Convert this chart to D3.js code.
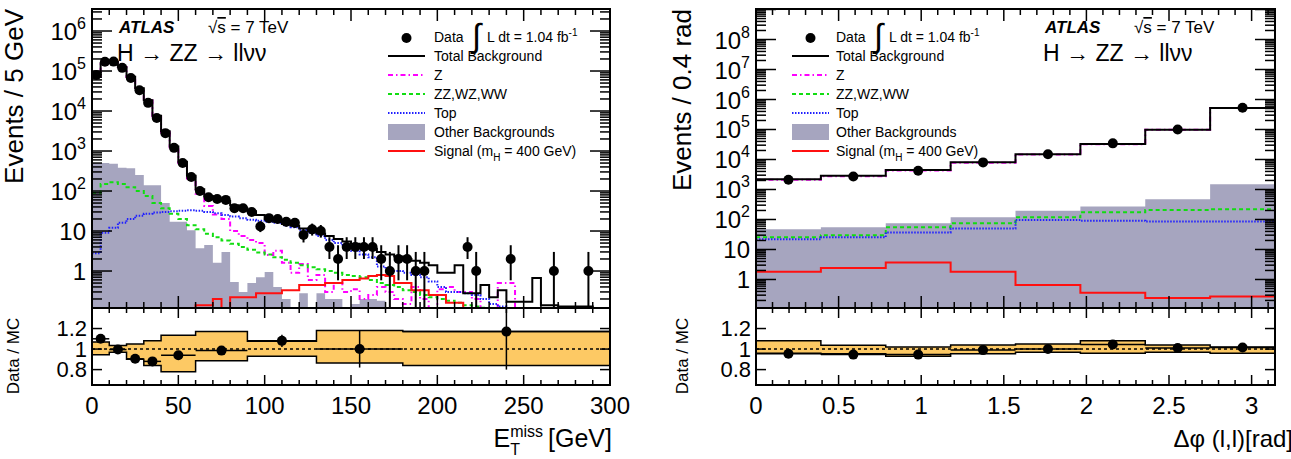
<!DOCTYPE html>
<html>
<head>
<meta charset="utf-8">
<script src="https://cdn.jsdelivr.net/npm/d3@7"></script>
<style>
  body { margin: 0; background: #fff; }
  text { font-family: 'Liberation Sans', Arial, Helvetica, sans-serif; fill: #000; }
</style>
</head>
<body>
<svg id="chart" width="1291" height="459"></svg>
<script>
// ---------- E_T^miss panel (5 GeV bins, 0-300) ----------
const metEdges = d3.range(0, 305, 5);
const metData = [80000, 170000, 172000, 120000, 67000, 33000, 16000, 6700, 2800, 1200,
  500, 225, 100, 70, 63, 60, 37, 37, 30, 13,
  21, 20, 17, 16, 8, 11, 10, 4, 2, 4,
  4, 4, 4, 2, 1, 2, 2, 1, 1, 0,
  0, 0, 0, 4, 1, 0, 0, 0, 2, 0,
  0, 0, 0, 1, 0, 0, 0, 1, 0, 0];
const metBkg = [73000, 158000, 170000, 125000, 72000, 37000, 18500, 7600, 3100, 1300,
  540, 240, 110, 75, 62, 56, 44, 37, 31, 25,
  20, 17, 15, 13.5, 11.5, 10, 8.7, 7.5, 6.3, 5.5,
  4.8, 4.2, 3.6, 3.0, 2.6, 2.3, 2.0, 1.8, 1.6, 1.4,
  0.9, 0.9, 1.4, 0.28, 0.28, 0.45, 0.22, 0.33, 0.17, 0.17,
  0.17, 0.67, 0.14, 0.14, 0.13, 0.13, 0.13, 0.13, 0, 0];
const metZ = [72000, 157000, 169000, 124000, 71000, 36500, 18200, 7400, 2950, 1230,
  500, 205, 85, 42, 26, 20, 10, 7.5, 6, 5,
  2.5, 3.2, 1.6, 0.9, 1.5, 0.6, 0.8, 0.3, 0.5, 0.3,
  0.35, 0.2, 0.25, 0.4, 0.3, 0.2, 0.15, 0.4, 0.2, 0,
  0.35, 0.4, 0.3, 0.3, 0.2, 0, 0, 0.5, 0.5, 0,
  0, 0, 0, 0, 0, 0, 0, 0, 0, 0];
const metDiboson = [90, 150, 165, 150, 125, 100, 75, 50, 37, 27,
  20, 14, 11, 8.5, 7, 5.8, 4.8, 4, 3.4, 2.9,
  2.6, 2.2, 1.9, 1.6, 1.4, 1.25, 1.1, 1.0, 0.9, 0.8,
  0.75, 0.7, 0.6, 0.5, 0.45, 0.4, 0.33, 0.3, 0.25, 0.22,
  0.2, 0.18, 0.16, 0.14, 0.13, 0.12, 0.1, 0.1, 0.1, 0.1,
  0.1, 0.1, 0.1, 0.1, 0.1, 0.1, 0.1, 0.1, 0.1, 0.1];
const metTop = [2.8, 9, 12, 16, 20, 24, 27, 29, 30, 31,
  32, 33, 32, 30, 28, 25, 23, 21, 19, 18,
  17, 16, 14, 12.5, 10.6, 9, 7.5, 6, 5, 4,
  3.2, 2.6, 2.2, 1.3, 1.1, 1.0, 0.9, 0.8, 0.7, 0.55,
  0.4, 0.3, 0.3, 0.28, 0.25, 0.2, 0.15, 0.13, 0, 0,
  0, 0, 0, 0, 0, 0, 0, 0, 0, 0];
const metOther = [500, 500, 480, 380, 370, 250, 140, 140, 50, 17,
  17, 10.5, 3.7, 4.5, 1.6, 3, 0.53, 0.3, 0.5, 0.7,
  0.95, 0.4, 0.2, 0, 0.28, 0, 0.28, 0.2, 0.2, 0,
  0.15, 0.2, 0.2, 0.18, 0, 0, 0, 0, 0, 0,
  0, 0, 0, 0, 0, 0, 0, 0, 0, 0,
  0, 0, 0, 0, 0, 0, 0, 0, 0, 0];
const metSignal = [0, 0, 0, 0, 0, 0, 0, 0, 0, 0,
  0, 0, 0.14, 0.14, 0.2, 0, 0.22, 0.22, 0.22, 0.28,
  0.28, 0.28, 0.33, 0.33, 0.45, 0.45, 0.45, 0.5, 0.5, 0.6,
  0.6, 0.65, 0.75, 0.8, 0.75, 0.5, 0.5, 0.33, 0.33, 0.25,
  0.25, 0.16, 0.16, 0, 0, 0, 0, 0, 0, 0,
  0, 0, 0, 0, 0, 0, 0, 0, 0, 0];
// ratio panel (variable bins)
const metRatioEdges = [0, 10, 20, 30, 40, 60, 90, 130, 180, 300];
const metBandUp = [1.07, 1.035, 1.05, 1.08, 1.135, 1.17, 1.075, 1.18, 1.17];
const metBandDn = [0.945, 0.97, 0.90, 0.84, 0.78, 0.885, 0.93, 0.865, 0.84];
const metRatio = [1.10, 0.995, 0.905, 0.88, 0.94, 0.985, 1.08, 1.0, 1.17];
const metRatioErr = [0.01, 0.01, 0.01, 0.015, 0.02, 0.04, 0.06, 0.18, 0.37];

// ---------- delta phi panel (pi/8 bins) ----------
const dphiEdges = d3.range(0, 9).map(i => i * Math.PI / 8);
const dphiData = [2100, 2700, 4200, 8000, 15000, 34500, 100000, 530000];
const dphiBkg = [2200, 2850, 4450, 8080, 15000, 33000, 99000, 522000];
const dphiZ = [2100, 2780, 4300, 7850, 14600, 32500, 98000, 520000];
const dphiDiboson = [25.5, 30, 55, 75, 118, 173, 208, 218];
const dphiTop = [22, 25.5, 37, 50, 96, 91, 85, 85];
const dphiOther = [47, 55, 75, 118, 196, 270, 470, 1500];
const dphiSignal = [1.8, 2.4, 3.7, 1.8, 0.65, 0.36, 0.24, 0.27];
const dphiBandUp = [1.08, 1.036, 1.02, 1.04, 1.05, 1.08, 1.04, 1.02];
const dphiBandDn = [0.96, 0.955, 0.93, 0.955, 0.97, 0.96, 0.97, 0.96];
const dphiRatio = [0.955, 0.946, 0.946, 0.99, 1.0, 1.045, 1.01, 1.015];
const dphiRatioErr = [0.01, 0.01, 0.01, 0.01, 0.01, 0.01, 0.01, 0.01];

const legendLabels = ['Data', 'Total Background', 'Z', 'ZZ,WZ,WW', 'Top', 'Other Backgrounds', 'Signal'];

// ---------- drawing ----------
const svg = d3.select('#chart');
const MAIN_TOP = 9, MAIN_BOT = 308, RAT_BOT = 385;
const GREY = '#a6a5bf', BAND = '#fdc964';
const styles = {
  z: { stroke: '#ff00ff', dash: '5,3,1.5,3' },
  diboson: { stroke: '#11dd11', dash: '4,3' },
  top: { stroke: '#2020ff', dash: '1.5,1.5' },
  signal: { stroke: '#ff1010', dash: null },
  bkg: { stroke: '#000', dash: null }
};

function stepPath(edges, vals, x, yf) {
  let d = '';
  vals.forEach((v, i) => {
    d += (i === 0 ? `M${x(edges[0])},${yf(v)}` : `V${yf(v)}`) + `H${x(edges[i + 1])}`;
  });
  return d;
}

function fillPath(edges, vals, x, yf, base) {
  let d = `M${x(edges[0])},${base}`;
  vals.forEach((v, i) => { d += `V${yf(v)}H${x(edges[i + 1])}`; });
  return d + `V${base}Z`;
}

function bandPath(edges, up, dn, x, y) {
  let d = `M${x(edges[0])},${y(up[0])}`;
  up.forEach((v, i) => { d += `V${y(v)}H${x(edges[i + 1])}`; });
  for (let i = dn.length - 1; i >= 0; i--) d += `V${y(dn[i])}H${x(edges[i])}`;
  return d + 'Z';
}

function drawPanel(p) {
  const x = d3.scaleLinear().domain(p.xDomain).range([p.x0, p.x1]);
  const y = d3.scaleLog().domain(p.yDomain).range([MAIN_BOT, MAIN_TOP]);
  const yv = v => v > 0 ? Math.min(y(v), MAIN_BOT + 3) : MAIN_BOT + 3;
  const yr = d3.scaleLinear().domain([0.65, 1.4]).range([RAT_BOT, MAIN_BOT]);

  svg.append('clipPath').attr('id', 'main' + p.id).append('rect')
    .attr('x', p.x0).attr('y', MAIN_TOP).attr('width', p.x1 - p.x0).attr('height', MAIN_BOT - MAIN_TOP);
  svg.append('clipPath').attr('id', 'rat' + p.id).append('rect')
    .attr('x', p.x0).attr('y', MAIN_BOT).attr('width', p.x1 - p.x0).attr('height', RAT_BOT - MAIN_BOT);

  // main histograms
  const gm = svg.append('g').attr('clip-path', `url(#main${p.id})`);
  gm.append('path').attr('d', fillPath(p.edges, p.other, x, yv, MAIN_BOT + 3)).attr('fill', GREY);
  [['z', p.z], ['diboson', p.diboson], ['top', p.top], ['signal', p.signal], ['bkg', p.bkg]].forEach(([k, vals]) => {
    gm.append('path').attr('d', stepPath(p.edges, vals, x, yv))
      .attr('fill', 'none').attr('stroke', styles[k].stroke).attr('stroke-width', 2)
      .attr('stroke-dasharray', styles[k].dash);
  });
  // data points
  const centers = p.data.map((v, i) => (p.edges[i] + p.edges[i + 1]) / 2);
  p.data.forEach((n, i) => {
    if (n <= 0) return;
    const err = Math.sqrt(n);
    gm.append('line').attr('x1', x(centers[i])).attr('x2', x(centers[i]))
      .attr('y1', yv(n + err + 1)).attr('y2', yv(n - err))
      .attr('stroke', '#000').attr('stroke-width', 2);
    gm.append('circle').attr('cx', x(centers[i])).attr('cy', y(n)).attr('r', 5).attr('fill', '#000');
  });

  // ratio panel
  const gr = svg.append('g').attr('clip-path', `url(#rat${p.id})`);
  gr.append('path').attr('d', bandPath(p.rEdges, p.bandUp, p.bandDn, x, yr))
    .attr('fill', BAND).attr('stroke', '#000').attr('stroke-width', 1.5);
  gr.append('line').attr('x1', p.x0).attr('x2', p.x1).attr('y1', yr(1)).attr('y2', yr(1))
    .attr('stroke', '#000').attr('stroke-width', 1.5).attr('stroke-dasharray', '3,3');
  p.ratio.forEach((r, i) => {
    const xa = x(p.rEdges[i]), xb = x(p.rEdges[i + 1]), xc = (xa + xb) / 2;
    gr.append('line').attr('x1', xa).attr('x2', xb).attr('y1', yr(r)).attr('y2', yr(r))
      .attr('stroke', '#000').attr('stroke-width', 1.5);
    gr.append('line').attr('x1', xc).attr('x2', xc).attr('y1', yr(r + p.ratioErr[i])).attr('y2', yr(r - p.ratioErr[i]))
      .attr('stroke', '#000').attr('stroke-width', 1.5);
    gr.append('circle').attr('cx', xc).attr('cy', yr(r)).attr('r', 5).attr('fill', '#000');
  });

  // frames
  const ga = svg.append('g').attr('stroke', '#000').attr('fill', 'none');
  ga.append('rect').attr('x', p.x0).attr('y', MAIN_TOP).attr('width', p.x1 - p.x0).attr('height', MAIN_BOT - MAIN_TOP).attr('stroke-width', 2);
  ga.append('rect').attr('x', p.x0).attr('y', MAIN_BOT).attr('width', p.x1 - p.x0).attr('height', RAT_BOT - MAIN_BOT).attr('stroke-width', 2);

  // x ticks (main + ratio, top + bottom)
  const minorX = d3.range(p.xDomain[0], p.xDomain[1] + 1e-9, p.xMinor);
  minorX.forEach(t => {
    const isMajor = Math.abs(t / p.xMajor - Math.round(t / p.xMajor)) < 1e-6;
    const xx = x(t);
    const l1 = isMajor ? 12 : 6, l2 = isMajor ? 10 : 5;
    ga.append('line').attr('x1', xx).attr('x2', xx).attr('y1', MAIN_TOP).attr('y2', MAIN_TOP + l1).attr('stroke-width', 1.5);
    ga.append('line').attr('x1', xx).attr('x2', xx).attr('y1', MAIN_BOT).attr('y2', MAIN_BOT - l1).attr('stroke-width', 1.5);
    ga.append('line').attr('x1', xx).attr('x2', xx).attr('y1', MAIN_BOT).attr('y2', MAIN_BOT + l2).attr('stroke-width', 1.5);
    ga.append('line').attr('x1', xx).attr('x2', xx).attr('y1', RAT_BOT).attr('y2', RAT_BOT - l2).attr('stroke-width', 1.5);
  });
  p.xLabels.forEach(t => {
    svg.append('text').attr('x', x(t)).attr('y', 414).attr('text-anchor', 'middle')
      .attr('font-size', 24).text(String(t));
  });

  // log y ticks
  const [lo, hi] = p.yDomain;
  for (let k = Math.floor(Math.log10(lo)); k <= Math.ceil(Math.log10(hi)); k++) {
    for (let m = 1; m <= 9; m++) {
      const v = m * Math.pow(10, k);
      if (v < lo || v > hi) continue;
      const len = m === 1 ? 20 : 10, yy = y(v);
      ga.append('line').attr('x1', p.x0).attr('x2', p.x0 + len).attr('y1', yy).attr('y2', yy).attr('stroke-width', 1.5);
      ga.append('line').attr('x1', p.x1).attr('x2', p.x1 - len).attr('y1', yy).attr('y2', yy).attr('stroke-width', 1.5);
      if (m === 1 && k >= 0 && k <= p.maxExp) {
        const t = svg.append('text').attr('x', p.x0 - 6).attr('y', yy + 9).attr('text-anchor', 'end').attr('font-size', 24);
        if (k === 0) t.text('1');
        else if (k === 1) t.text('10');
        else {
          t.append('tspan').text('10');
          t.append('tspan').attr('font-size', 16).attr('dy', -11).text(String(k));
        }
      }
    }
  }
  // ratio y ticks
  [0.8, 1, 1.2].forEach(v => {
    const yy = yr(v);
    ga.append('line').attr('x1', p.x0).attr('x2', p.x0 + 10).attr('y1', yy).attr('y2', yy).attr('stroke-width', 1.5);
    ga.append('line').attr('x1', p.x1).attr('x2', p.x1 - 10).attr('y1', yy).attr('y2', yy).attr('stroke-width', 1.5);
    svg.append('text').attr('x', p.x0 - 5).attr('y', yy + 7.5).attr('text-anchor', 'end').attr('font-size', 22).text(String(v));
  });

  // axis titles
  svg.append('text').attr('transform', `translate(${p.yTitleX},${MAIN_TOP}) rotate(-90)`)
    .attr('text-anchor', 'end').attr('font-size', 26).text(p.yTitle);
  svg.append('text').attr('transform', `translate(${p.rTitleX},356) rotate(-90)`)
    .attr('text-anchor', 'middle').attr('font-size', 17).text('Data / MC');

  // legend
  const L = p.legend, rows = d3.range(7).map(i => L.y0 + i * 19);
  const lg = svg.append('g');
  lg.append('circle').attr('cx', (L.x1 + L.x2) / 2).attr('cy', rows[0] + 1).attr('r', 5).attr('fill', '#000');
  const lineKeys = [null, 'bkg', 'z', 'diboson', 'top', null, 'signal'];
  lineKeys.forEach((k, i) => {
    if (!k) return;
    lg.append('line').attr('x1', L.x1).attr('x2', L.x2).attr('y1', rows[i]).attr('y2', rows[i])
      .attr('stroke', styles[k].stroke).attr('stroke-width', 2).attr('stroke-dasharray', styles[k].dash);
  });
  lg.append('rect').attr('x', L.x1).attr('y', rows[5] - 8).attr('width', L.x2 - L.x1).attr('height', 16).attr('fill', GREY);
  legendLabels.forEach((s, i) => {
    const t = lg.append('text').attr('x', L.tx).attr('y', rows[i] + 5).attr('font-size', 14);
    if (i === 6) {
      t.append('tspan').text('Signal (m');
      t.append('tspan').attr('font-size', 10).attr('dy', 5).text('H');
      t.append('tspan').attr('dy', -5).text(' = 400 GeV)');
    } else t.text(s);
  });
  lg.append('text').attr('x', L.tx + 38).attr('y', rows[0] + 10).attr('font-size', 33)
    .attr('font-family', 'DejaVu Sans').attr('font-weight', 300).text('∫');
  const lumi = lg.append('text').attr('x', L.tx + 53).attr('y', rows[0] + 5).attr('font-size', 14);
  lumi.append('tspan').text('L dt = 1.04 fb');
  lumi.append('tspan').attr('font-size', 10).attr('dy', -6).text('-1');

  // ATLAS label
  svg.append('text').attr('x', p.atlasX).attr('y', 33).attr('font-size', 17)
    .attr('font-weight', 'bold').attr('font-style', 'italic').text('ATLAS');
  const rs = svg.append('text').attr('x', p.atlasX + 89).attr('y', 33).attr('font-size', 17);
  rs.append('tspan').text('√');
  rs.append('tspan').attr('text-decoration', 'overline').text('s');
  rs.append('tspan').text(' = 7 TeV');
  svg.append('text').attr('x', p.atlasX - 2).attr('y', 61).attr('font-size', 23).text('H → ZZ → llνν');
}

drawPanel({
  id: 'L', x0: 92, x1: 610, xDomain: [0, 300], yDomain: [0.119, 3.55e6], maxExp: 6,
  edges: metEdges, data: metData, bkg: metBkg, z: metZ, diboson: metDiboson, top: metTop,
  other: metOther, signal: metSignal,
  rEdges: metRatioEdges, bandUp: metBandUp, bandDn: metBandDn, ratio: metRatio, ratioErr: metRatioErr,
  xMinor: 10, xMajor: 50, xLabels: [0, 50, 100, 150, 200, 250, 300],
  yTitle: 'Events / 5 GeV', yTitleX: 23, rTitleX: 19,
  legend: { x1: 388, x2: 425, tx: 434, y0: 37 }, atlasX: 119
});

drawPanel({
  id: 'R', x0: 756, x1: 1275, xDomain: [0, Math.PI], yDomain: [0.112, 1.04e9], maxExp: 8,
  edges: dphiEdges, data: dphiData, bkg: dphiBkg, z: dphiZ, diboson: dphiDiboson, top: dphiTop,
  other: dphiOther, signal: dphiSignal,
  rEdges: dphiEdges, bandUp: dphiBandUp, bandDn: dphiBandDn, ratio: dphiRatio, ratioErr: dphiRatioErr,
  xMinor: 0.1, xMajor: 0.5, xLabels: [0, 0.5, 1, 1.5, 2, 2.5, 3],
  yTitle: 'Events / 0.4 rad', yTitleX: 691, rTitleX: 688,
  legend: { x1: 792, x2: 829, tx: 836, y0: 37 }, atlasX: 1045
});

// x axis titles
const xt = svg.append('g');
const t1 = xt.append('text').attr('y', 447).attr('font-size', 25);
t1.append('tspan').text('E');
const eW = t1.node().getComputedTextLength();
const sup = xt.append('text').attr('x', eW).attr('y', 437).attr('font-size', 16).text('miss');
xt.append('text').attr('x', eW).attr('y', 455).attr('font-size', 16).text('T');
const supW = sup.node().getComputedTextLength();
const gev = xt.append('text').attr('x', eW + supW + 5).attr('y', 447).attr('font-size', 25).text('[GeV]');
const totalW = eW + supW + 5 + gev.node().getComputedTextLength();
xt.attr('transform', `translate(${612 - totalW},0)`);

svg.append('text').attr('x', 1293).attr('y', 447).attr('text-anchor', 'end').attr('font-size', 24)
  .text('Δφ (l,l)[rad]');
</script>
</body>
</html>
